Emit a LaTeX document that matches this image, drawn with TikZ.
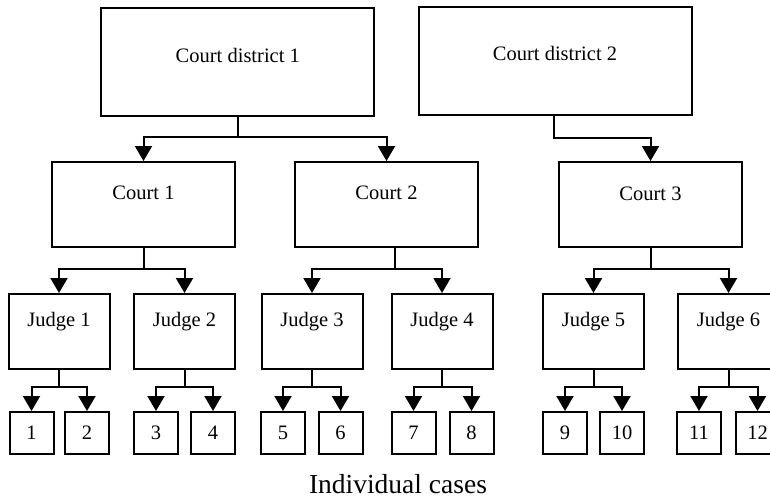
\documentclass[tikz,border=0pt]{standalone}
\usepackage{fontspec}
\setmainfont{Liberation Serif}
\usetikzlibrary{arrows.meta,calc}
\begin{document}
\begin{tikzpicture}[x=1pt,y=-1pt,
  every node/.style={font=\fontsize{20.5}{24}\selectfont},
  bx/.style={draw,line width=2pt,inner sep=0pt},
  district/.style={bx,minimum width=273pt,minimum height=108pt},
  court/.style={bx,minimum width=183pt,minimum height=85pt},
  judge/.style={bx,minimum width=101pt,minimum height=75pt},
  case/.style={bx,minimum width=44pt,minimum height=42pt},
  conn/.style={line width=2pt,-{Triangle[length=15pt,width=17pt]}}]
\useasboundingbox (0,0) rectangle (770,501);
\clip (0,0) rectangle (770,501);
% districts
\node[district,label={[yshift=6.5pt]center:Court district 1}] (cd1) at (237.8,61.5) {};
\node[district,label={[yshift=8pt]center:Court district 2}] (cd2) at (555,61) {};
% courts
\node[court,label={[yshift=12pt]center:Court 1}] (c1) at (143.5,204.5) {};
\node[court,label={[yshift=12pt]center:Court 2}] (c2) at (386.5,204.5) {};
\node[court,label={[yshift=11pt]center:Court 3}] (c3) at (650.5,204.5) {};
% judges
\node[judge,label={[yshift=10pt]center:Judge 1}] (j1) at (59,331.5) {};
\node[judge,label={[yshift=10pt]center:Judge 2}] (j2) at (184.5,331.5) {};
\node[judge,label={[yshift=10pt]center:Judge 3}] (j3) at (312,331.5) {};
\node[judge,label={[yshift=10pt]center:Judge 4}] (j4) at (442,331.5) {};
\node[judge,label={[yshift=10pt]center:Judge 5}] (j5) at (593.5,331.5) {};
\node[judge,label={[yshift=10pt]center:Judge 6}] (j6) at (728.5,331.5) {};
% cases
\node[case] (k1) at (31.5,433) {1};
\node[case] (k2) at (87,433) {2};
\node[case] (k3) at (156,433) {3};
\node[case] (k4) at (213,433) {4};
\node[case] (k5) at (283,433) {5};
\node[case] (k6) at (340.5,433) {6};
\node[case] (k7) at (413.5,433) {7};
\node[case] (k8) at (471.5,433) {8};
\node[case] (k9) at (565,433) {9};
\node[case] (k10) at (622,433) {10};
\node[case] (k11) at (699,433) {11};
\node[case] (k12) at (757.5,433) {12};
\node[font=\fontsize{27.5}{32}\selectfont] (ic) at (398,484) {Individual cases};
% connectors
\draw[conn] (cd1.south) -- ++(0,20) -| (c1.north);
\draw[conn] (cd1.south) -- ++(0,20) -| (c2.north);
\draw[conn] ($(cd2.south)+(-1,0)$) -- ++(0,22) -| (c3.north);
\draw[conn] (c1.south) -- ++(0,21) -| (j1.north);
\draw[conn] (c1.south) -- ++(0,21) -| (j2.north);
\draw[conn] ($(c2.south)+(8.5,0)$) -- ++(0,21) -| (j3.north);
\draw[conn] ($(c2.south)+(8.5,0)$) -- ++(0,21) -| (j4.north);
\draw[conn] (c3.south) -- ++(0,21) -| (j5.north);
\draw[conn] (c3.south) -- ++(0,21) -| (j6.north);
\foreach \j/\a/\b in {j1/k1/k2,j2/k3/k4,j3/k5/k6,j4/k7/k8,j5/k9/k10,j6/k11/k12}{
  \draw[conn] (\j.south) -- ++(0,17) -| (\a.north);
  \draw[conn] (\j.south) -- ++(0,17) -| (\b.north);
}
\end{tikzpicture}
\end{document}
